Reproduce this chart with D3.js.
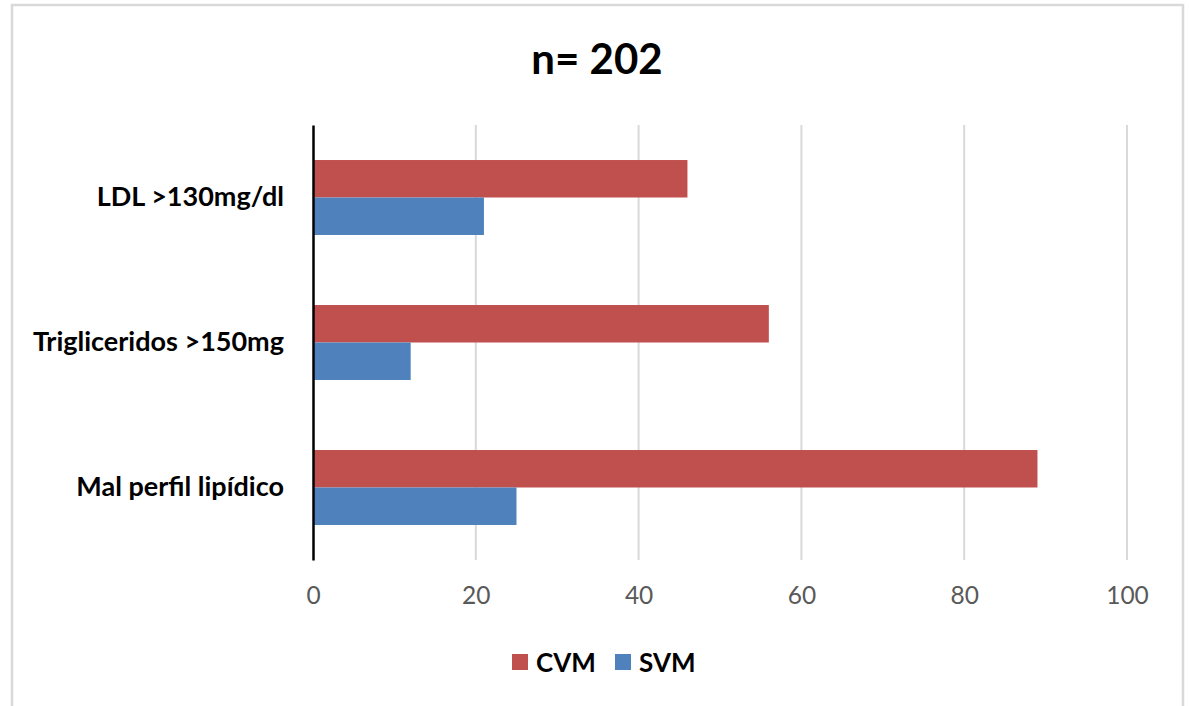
<!DOCTYPE html>
<html>
<head>
<meta charset="utf-8">
<script src="https://cdn.jsdelivr.net/npm/d3@7"></script>
<style>
  html, body { margin: 0; padding: 0; background: #fff; }
  svg { display: block; }
</style>
</head>
<body>
<svg id="chart" width="1189" height="706"></svg>
<script>
// Chart data
const categories = ["LDL >130mg/dl", "Trigliceridos >150mg", "Mal perfil lipídico"];
const seriesNames = ["CVM", "SVM"];
const cvmValues = [46, 56, 89];
const svmValues = [21, 12, 25];
const xTicks = [0, 20, 40, 60, 80, 100];
const title = "n= 202";

const colors = { CVM: "#c0504d", SVM: "#4f81bd" };
const font = "Lato, 'Open Sans', sans-serif";

const svg = d3.select("#chart");

// chart frame
svg.append("rect")
  .attr("x", 12).attr("y", 5)
  .attr("width", 1171).attr("height", 720)
  .attr("fill", "#fff")
  .attr("stroke", "#d9d9d9").attr("stroke-width", 2.5);

const plot = { left: 313, right: 1127, top: 125, bottom: 560 };

const x = d3.scaleLinear().domain([0, 100]).range([plot.left, plot.right]);
const y = d3.scaleBand().domain(categories)
  .range([plot.top, plot.bottom])
  .paddingInner(0.483).paddingOuter(0.2415);
const ySub = d3.scaleBand().domain(seriesNames).range([0, y.bandwidth()]);

// vertical gridlines
svg.append("g").selectAll("line")
  .data(xTicks.filter(t => t !== 0))
  .join("line")
  .attr("x1", d => x(d)).attr("x2", d => x(d))
  .attr("y1", plot.top).attr("y2", plot.bottom)
  .attr("stroke", "#d9d9d9").attr("stroke-width", 2);

// bars
const rows = categories.map((c, i) => ({ cat: c, CVM: cvmValues[i], SVM: svmValues[i] }));
const groups = svg.append("g").selectAll("g")
  .data(rows).join("g")
  .attr("transform", d => `translate(0,${y(d.cat)})`);
groups.selectAll("rect")
  .data(d => seriesNames.map(s => ({ s, v: d[s] })))
  .join("rect")
  .attr("x", x(0))
  .attr("y", d => ySub(d.s))
  .attr("width", d => x(d.v) - x(0))
  .attr("height", ySub.bandwidth())
  .attr("fill", d => colors[d.s]);

// x axis labels
const xAxis = d3.axisBottom(x).tickValues(xTicks).tickSize(0).tickPadding(27);
const gx = svg.append("g").attr("transform", `translate(0,${plot.bottom})`).call(xAxis);
gx.select(".domain").remove();
gx.selectAll("text")
  .attr("font-family", font).attr("font-size", 24.5)
  .attr("fill", "#595959");

// y axis
const yAxis = d3.axisLeft(y).tickSize(0).tickPadding(29);
const gy = svg.append("g").attr("transform", `translate(${plot.left},0)`).call(yAxis);
gy.select(".domain").attr("stroke", "#000").attr("stroke-width", 2.5);
gy.selectAll("text")
  .attr("font-family", font).attr("font-size", 27).attr("font-weight", "bold")
  .attr("fill", "#000");

// title
svg.append("text")
  .attr("x", 597).attr("y", 74)
  .attr("text-anchor", "middle")
  .attr("font-family", font).attr("font-size", 42).attr("font-weight", "bold")
  .attr("fill", "#000")
  .text(title);

// legend
const legend = svg.append("g").attr("transform", "translate(512,662)");
const legendItems = [{ s: "CVM", x: 0 }, { s: "SVM", x: 103 }];
const li = legend.selectAll("g").data(legendItems).join("g")
  .attr("transform", d => `translate(${d.x},0)`);
li.append("rect")
  .attr("x", 0).attr("y", -8).attr("width", 16).attr("height", 16)
  .attr("fill", d => colors[d.s]);
li.append("text")
  .attr("x", 24).attr("y", 1).attr("dy", "0.35em")
  .attr("font-family", font).attr("font-size", 26).attr("font-weight", "bold")
  .attr("fill", "#000")
  .text(d => d.s);
</script>
</body>
</html>
